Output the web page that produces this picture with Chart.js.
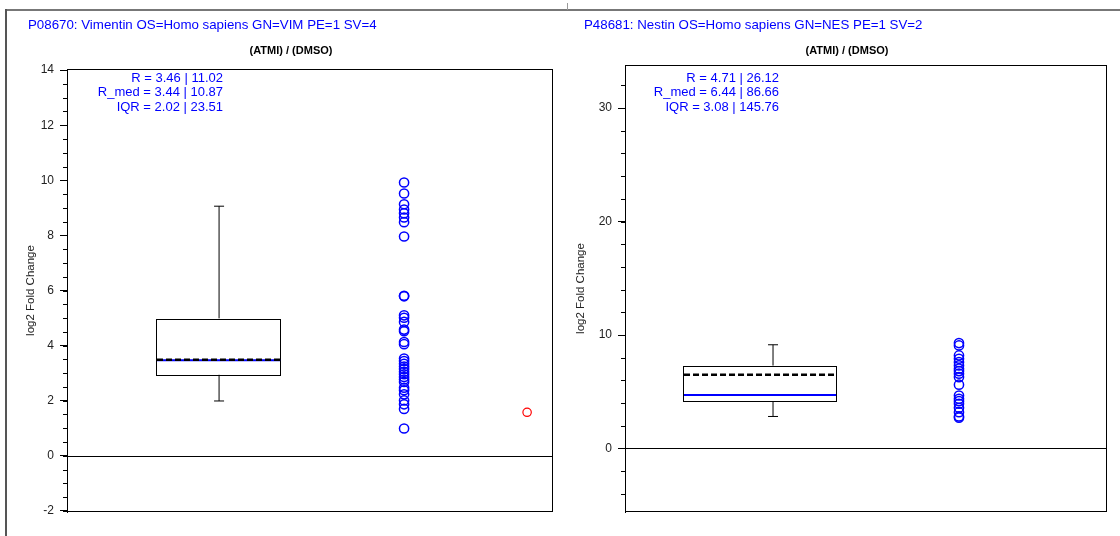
<!DOCTYPE html>
<html>
<head>
<meta charset="utf-8">
<script src="https://cdn.jsdelivr.net/npm/chart.js@4.4.1/dist/chart.umd.min.js"></script>
<style>
  body { margin: 0; background: #fff; }
  #wrap { position: relative; width: 1120px; height: 536px; overflow: hidden; }
  canvas { position: absolute; top: 0; }
  #left { left: 0; }
  #right { left: 560px; }
  .frame-top { position: absolute; left: 6px; top: 9px; width: 1114px; height: 0; border-top: 2px solid #777; }
  .frame-left { position: absolute; left: 5px; top: 9px; width: 0; height: 527px; border-left: 2px solid #555; }
  .frame-tick { position: absolute; left: 567px; top: 3px; width: 0; height: 7px; border-left: 1px solid #999; }
</style>
</head>
<body>
<div id="wrap">
  <div class="frame-top"></div>
  <div class="frame-left"></div>
  <div class="frame-tick"></div>
  <canvas id="left" width="560" height="536"></canvas>
  <canvas id="right" width="560" height="536"></canvas>
</div>
<script>
// ---- Vimentin panel ----
const vimTitle = 'P08670: Vimentin OS=Homo sapiens GN=VIM PE=1 SV=4';
const vimStats = ['R = 3.46 | 11.02', 'R_med = 3.44 | 10.87', 'IQR = 2.02 | 23.51'];
const vimWhiskers = [1.99, 9.06];
const vimBox = [2.95, 4.98];
const vimBlue = 3.47;      // solid blue line
const vimDashed = 3.49;    // dashed black line
const vimPoints = [9.92, 9.52, 9.13, 8.94, 8.80, 8.65, 8.48, 7.96, 5.81, 5.79, 5.10, 5.01,
  4.86, 4.58, 4.52, 4.13, 4.05, 3.53, 3.44, 3.34, 3.24, 3.15, 3.05, 2.96, 2.86, 2.77,
  2.68, 2.47, 2.38, 2.23, 2.01, 1.87, 1.70, 0.99];
const vimOutliers = [1.58];
const vimTicks = [-2, 0, 2, 4, 6, 8, 10, 12, 14];

// ---- Nestin panel ----
const nesTitle = 'P48681: Nestin OS=Homo sapiens GN=NES PE=1 SV=2';
const nesStats = ['R = 4.71 | 26.12', 'R_med = 6.44 | 86.66', 'IQR = 3.08 | 145.76'];
const nesWhiskers = [2.82, 9.14];
const nesBox = [4.17, 7.29];
const nesBlue = 4.71;
const nesDashed = 6.50;
const nesPoints = [9.29, 9.08, 8.20, 7.91, 7.61, 7.32, 7.03, 6.82, 6.59, 6.29, 5.62,
  4.67, 4.38, 4.17, 3.94, 3.59, 3.20, 2.82, 2.71];
const nesOutliers = [];
const nesTicks = [0, 10, 20, 30];

const subTitle = '(ATMI) / (DMSO)';
const yTitle = 'log2 Fold Change';
const BLUE = '#0000ff';
const FONT = '"Liberation Sans", Arial, sans-serif';

// draws frame, zero line, minor ticks, box, whiskers and the texts
const boxPlugin = {
  id: 'boxplot',
  beforeDatasetsDraw(chart) {
    const o = chart.options.plugins.boxplot;
    const { ctx, chartArea: a } = chart;
    const x = chart.scales.x, y = chart.scales.y;
    ctx.save();
    ctx.beginPath();
    ctx.rect(a.left, a.top, a.right - a.left, a.bottom - a.top);
    ctx.clip();

    // zero line
    ctx.strokeStyle = '#000';
    ctx.lineWidth = 1;
    ctx.beginPath();
    ctx.moveTo(a.left, Math.round(y.getPixelForValue(0)) + 0.5);
    ctx.lineTo(a.right, Math.round(y.getPixelForValue(0)) + 0.5);
    ctx.stroke();

    const bl = x.getPixelForValue(o.boxLeft), br = x.getPixelForValue(o.boxRight);
    const wx = x.getPixelForValue(o.whiskerX);
    const q1 = y.getPixelForValue(o.box[0]), q3 = y.getPixelForValue(o.box[1]);
    const lo = y.getPixelForValue(o.whiskers[0]), hi = y.getPixelForValue(o.whiskers[1]);

    // whiskers
    ctx.beginPath();
    ctx.moveTo(wx, q3); ctx.lineTo(wx, hi);
    ctx.moveTo(wx - 5, hi); ctx.lineTo(wx + 5, hi);
    ctx.moveTo(wx, q1); ctx.lineTo(wx, lo);
    ctx.moveTo(wx - 5, lo); ctx.lineTo(wx + 5, lo);
    ctx.stroke();

    // box
    ctx.fillStyle = '#fff';
    ctx.fillRect(bl, q3, br - bl, q1 - q3);
    ctx.strokeRect(Math.round(bl) + 0.5, Math.round(q3) + 0.5, Math.round(br - bl), Math.round(q1 - q3));

    // blue solid line
    ctx.strokeStyle = BLUE;
    ctx.lineWidth = 2;
    ctx.beginPath();
    ctx.moveTo(bl + 1, y.getPixelForValue(o.blue));
    ctx.lineTo(br, y.getPixelForValue(o.blue));
    ctx.stroke();

    // dashed black line
    ctx.strokeStyle = '#000';
    ctx.lineWidth = 2.5;
    ctx.setLineDash([6, 3]);
    ctx.beginPath();
    ctx.moveTo(bl + 1, y.getPixelForValue(o.dashed));
    ctx.lineTo(br, y.getPixelForValue(o.dashed));
    ctx.stroke();
    ctx.restore();
  },
  afterDraw(chart) {
    const o = chart.options.plugins.boxplot;
    const { ctx, chartArea: a } = chart;
    const y = chart.scales.y;
    ctx.save();
    // plot frame
    ctx.strokeStyle = '#000';
    ctx.lineWidth = 1;
    ctx.strokeRect(Math.round(a.left) + 0.5, Math.round(a.top) + 0.5,
      Math.round(a.right - a.left) - 1, Math.round(a.bottom - a.top) - 1);

    // minor ticks
    ctx.beginPath();
    for (let v = Math.ceil(y.min / o.minorStep) * o.minorStep; v <= y.max; v += o.minorStep) {
      const py = Math.round(y.getPixelForValue(v)) + 0.5;
      ctx.moveTo(a.left - 4, py);
      ctx.lineTo(a.left, py);
    }
    ctx.stroke();

    // titles
    ctx.fillStyle = BLUE;
    ctx.font = '13.3px ' + FONT;
    ctx.textAlign = 'left';
    ctx.textBaseline = 'middle';
    ctx.fillText(o.title, o.titleX, 25);

    ctx.fillStyle = '#000';
    ctx.font = 'bold 11px ' + FONT;
    ctx.textAlign = 'center';
    ctx.fillText(subTitle, (a.left + a.right) / 2 - 19, 51);

    // stats
    ctx.fillStyle = BLUE;
    ctx.font = '13px ' + FONT;
    ctx.textAlign = 'right';
    o.stats.forEach((s, i) => ctx.fillText(s, o.statsX, 78 + i * 14.5));
    ctx.restore();
  }
};

function makeChart(id, cfg) {
  return new Chart(document.getElementById(id), {
    type: 'scatter',
    data: {
      datasets: [
        {
          data: cfg.points.map(v => ({ x: 2, y: v })),
          borderColor: BLUE,
          backgroundColor: 'rgba(0,0,0,0)',
          borderWidth: 1.5,
          pointRadius: 4.6
        },
        {
          data: cfg.outliers.map(v => ({ x: cfg.outlierX, y: v })),
          borderColor: '#ff0000',
          backgroundColor: 'rgba(0,0,0,0)',
          borderWidth: 1.2,
          pointRadius: 4.2
        }
      ]
    },
    options: {
      responsive: false,
      animation: false,
      layout: { padding: cfg.padding },
      plugins: {
        legend: { display: false },
        tooltip: { enabled: false },
        boxplot: cfg.box
      },
      scales: {
        x: { type: 'linear', display: false, min: cfg.xRange[0], max: cfg.xRange[1] },
        y: {
          min: cfg.yRange[0],
          max: cfg.yRange[1],
          afterFit: s => { s.width = cfg.axisWidth; },
          afterBuildTicks: s => { s.ticks = cfg.ticks.map(v => ({ value: v })); },
          border: { display: true, color: '#000', width: 1 },
          grid: { display: true, drawOnChartArea: false, drawTicks: true, tickLength: 7, color: '#000' },
          ticks: { color: '#222', padding: 6, font: { family: FONT, size: 12 } },
          title: {
            display: true,
            text: yTitle,
            color: '#222',
            padding: { top: 4, bottom: 4 },
            font: { family: FONT, size: 11.5 }
          }
        }
      }
    },
    plugins: [boxPlugin]
  });
}

makeChart('left', {
  points: vimPoints,
  outliers: vimOutliers,
  outlierX: 2.665,
  xRange: [0.178, 2.805],
  yRange: [-2.04, 14.04],
  ticks: vimTicks,
  padding: { left: 20, right: 7, top: 69, bottom: 24 },
  axisWidth: 47,
  box: {
    box: vimBox, whiskers: vimWhiskers, blue: vimBlue, dashed: vimDashed,
    boxLeft: 0.659, boxRight: 1.330, whiskerX: 1,
    minorStep: 0.5, title: vimTitle, titleX: 28, stats: vimStats, statsX: 223
  }
});

makeChart('right', {
  points: nesPoints,
  outliers: nesOutliers,
  outlierX: 2.665,
  xRange: [0.204, 2.796],
  yRange: [-5.6, 33.8],
  ticks: nesTicks,
  padding: { left: 10, right: 13, top: 65, bottom: 24 },
  axisWidth: 55,
  box: {
    box: nesBox, whiskers: nesWhiskers, blue: nesBlue, dashed: nesDashed,
    boxLeft: 0.516, boxRight: 1.339, whiskerX: 1,
    minorStep: 2, title: nesTitle, titleX: 24, stats: nesStats, statsX: 219
  }
});
</script>
</body>
</html>
